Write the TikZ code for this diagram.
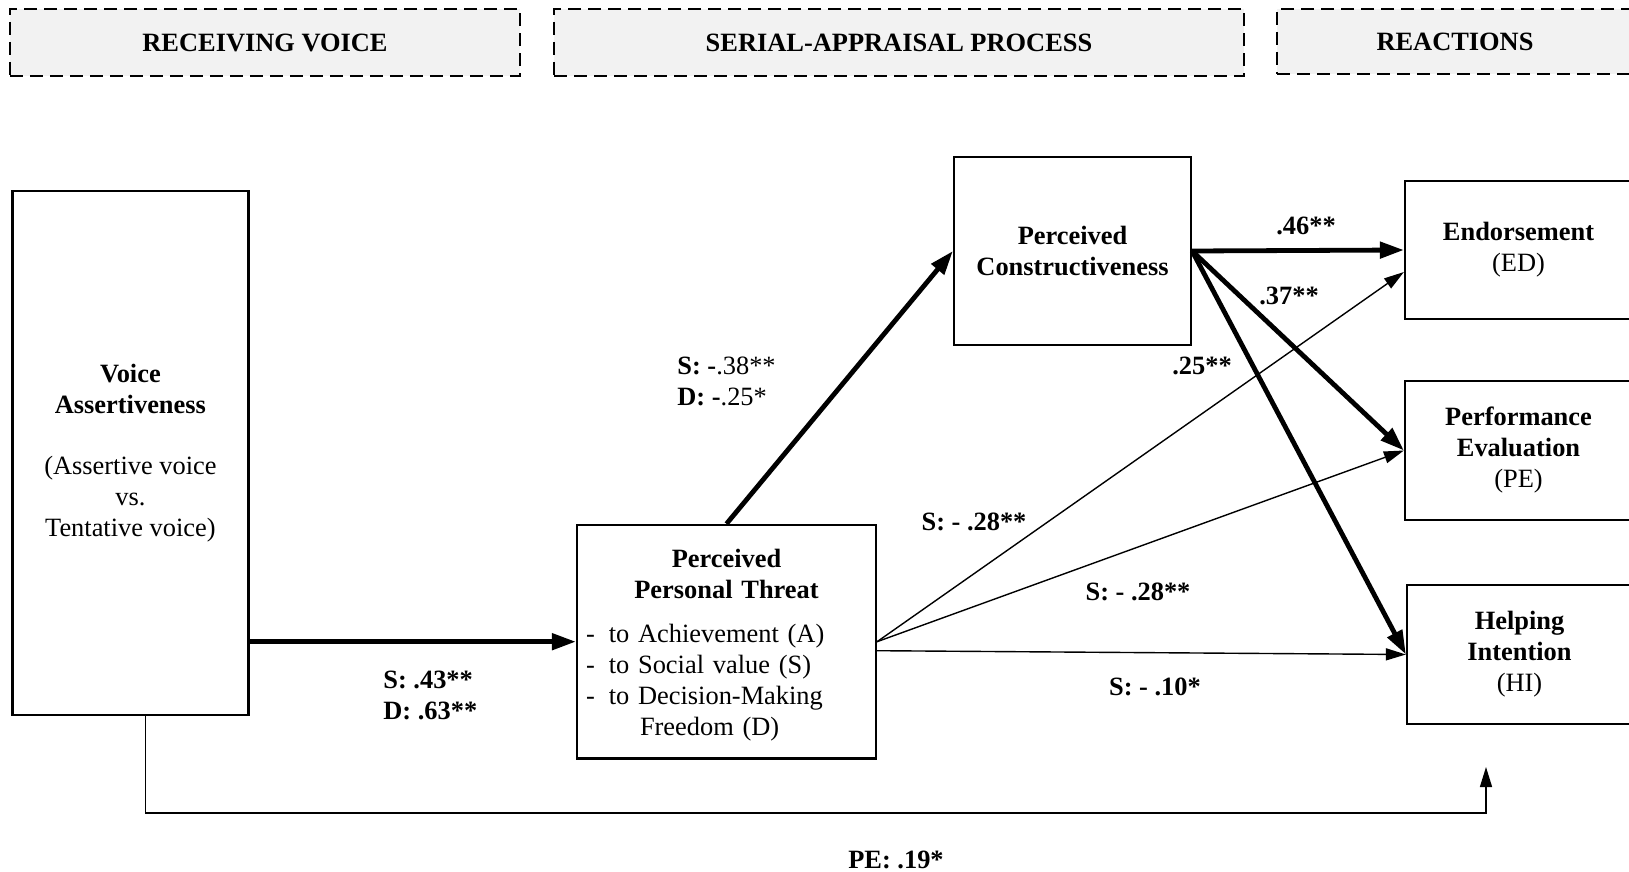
\documentclass[tikz,border=0pt]{standalone}
\usepackage{fontspec}
\setmainfont{Liberation Serif}
\usepackage{tikz}
\usetikzlibrary{arrows.meta, positioning, calc}
\setlength{\parindent}{0pt}
\definecolor{headgray}{RGB}{242, 242, 242}
\newcommand{\diagfont}{\fontsize{13.2}{15.5}\selectfont}
\tikzstyle{stage} = [rectangle, draw=black, fill=headgray, dash pattern=on 6.5pt off 3.5pt, line width=0.9pt, text centered, font=\diagfont\bfseries]
\tikzstyle{construct} = [rectangle, draw=black, line width=1.1pt, align=center, inner sep=0pt, font=\diagfont, execute at begin node={\rule{0pt}{13pt}}]
\tikzstyle{coef} = [inner sep=1pt, font=\diagfont\bfseries]
\tikzstyle{strong} = [line width=2.4pt, -{Triangle[length=12pt, width=8pt]}]
\tikzstyle{weak} = [line width=0.7pt, -{Triangle[length=10pt, width=6pt]}]

\begin{document}
\begin{tikzpicture}[x=0.5pt, y=-0.5pt]
    \useasboundingbox (0,0) rectangle (1629,872);

    % Stage headers
    \node[stage, minimum width=255pt, minimum height=33.5pt] (hrecv) at (265, 42.5) {RECEIVING VOICE};
    \node[stage, minimum width=345pt, minimum height=33.5pt] (hproc) at (899, 42.5) {SERIAL-APPRAISAL PROCESS};
    \node[stage, minimum width=178pt, minimum height=32.5pt] (hreact) at (1455, 41.5) {REACTIONS};

    % Predictor
    \node[construct, minimum width=118pt, minimum height=262pt] (va) at (130.4, 453) {
        \textbf{Voice}\\\textbf{Assertiveness}\\[15.3pt]
        (Assertive voice\\vs.\\Tentative voice)
    };

    % Appraisals
    \node[construct, align=left, text width=149.5pt, minimum height=116.8pt] (threat) at (726.5, 641.7) {
        {\centering\textbf{Perceived}\\\textbf{Personal Threat}\par}\vspace{6.5pt}
        \hspace*{4.5pt}-\hspace{7pt}to Achievement (A)\\
        \hspace*{4.5pt}-\hspace{7pt}to Social value (S)\\
        \hspace*{4.5pt}-\hspace{7pt}to Decision-Making\\
        \hspace*{31.5pt}Freedom (D)
    };
    \node[construct, minimum width=118.5pt, minimum height=94pt] (construct) at (1072.5, 251) {
        \textbf{Perceived}\\\textbf{Constructiveness}
    };

    % Reactions
    \node[construct, minimum width=113.5pt, minimum height=69pt] (endorse) at (1518.5, 250) {
        \textbf{Endorsement}\\(ED)
    };
    \node[construct, minimum width=113.5pt, minimum height=69.5pt] (perfeval) at (1518.5, 450.5) {
        \textbf{Performance}\\\textbf{Evaluation}\\(PE)
    };
    \node[construct, minimum width=112.5pt, minimum height=69.5pt] (helping) at (1519.5, 654.5) {
        \textbf{Helping}\\\textbf{Intention}\\(HI)
    };

    % Strong paths
    \draw[strong] (va.east |- threat.west) -- (threat.west);
    \draw[strong] (threat.north) -- (construct.west);
    \draw[strong] (construct.east) -- (endorse.west);
    \draw[strong] (construct.east) -- (perfeval.west);
    \draw[strong] (construct.east) -- (helping.west);

    % Weak paths
    \draw[weak] (threat.east) -- ($(endorse.west)+(0,22)$);
    \draw[weak] (threat.east) -- (perfeval.west);
    \draw[weak] ($(threat.east)+(0,9)$) -- (helping.west);

    % Direct effect
    \coordinate (pegoal) at (1486, 767);
    \draw[weak] ($(va.south)+(15,0)$) -- ++(0,97) -| (pegoal);

    % Coefficients
    \node[coef, anchor=west, align=left] (cvt) at (381, 695) {S: .43**\\D: .63**};
    \node[coef, anchor=west, align=left] (ctc) at (675, 381) {S: -\textmd{.38**}\\D: -\textmd{.25*}};
    \node[coef] (ced) at (1306, 226) {.46**};
    \node[coef] (cpe) at (1289, 296) {.37**};
    \node[coef] (chi) at (1202, 366) {.25**};
    \node[coef] (ted) at (974, 522) {S: - .28**};
    \node[coef] (tpe) at (1138, 592) {S: - .28**};
    \node[coef] (thi) at (1155, 687) {S: - .10*};
    \node[coef] (vpe) at (896, 860) {PE: .19*};
\end{tikzpicture}
\end{document}
